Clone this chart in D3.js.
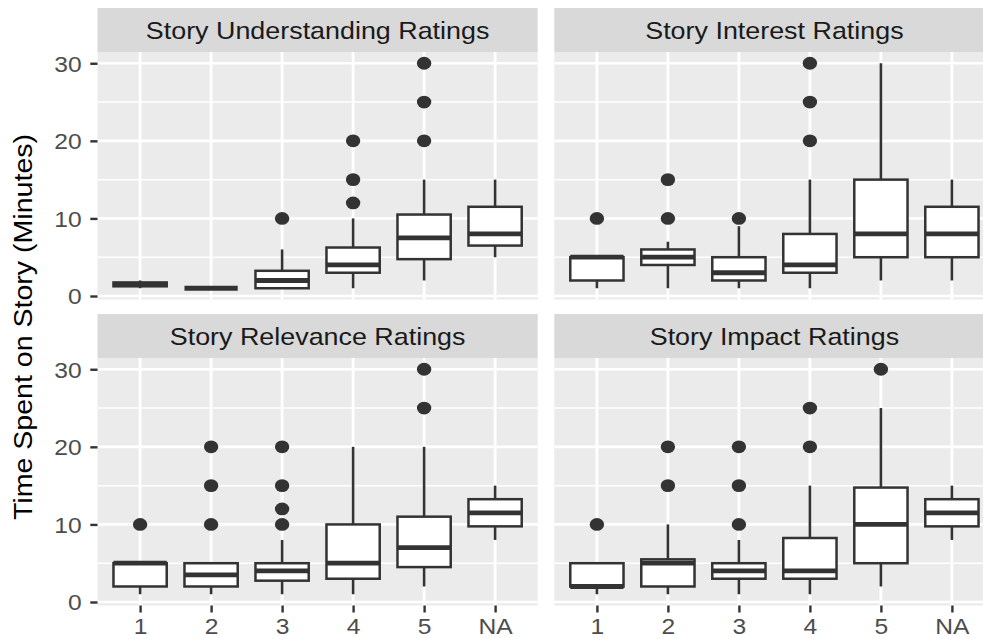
<!DOCTYPE html>
<html>
<head>
<meta charset="utf-8">
<script src="https://cdn.jsdelivr.net/npm/d3@7"></script>
<style>
  html, body { margin: 0; padding: 0; background: #ffffff; }
  svg { display: block; }
  text { font-family: "Liberation Sans", Arial, Helvetica, sans-serif; }
</style>
</head>
<body>
<svg id="chart" width="983" height="639"></svg>
<script>
// Rating categories shown on the x axis of every facet
const categories = ["1", "2", "3", "4", "5", "NA"];

const facetTitles = [
  "Story Understanding Ratings",
  "Story Interest Ratings",
  "Story Relevance Ratings",
  "Story Impact Ratings"
];

// Box summaries per category: [lower whisker, Q1, median, Q3, upper whisker]
const understandingBoxes = [
  [1, 1.25, 1.5, 1.75, 2],
  [1, 1, 1, 1, 1],
  [1, 1, 2, 3.25, 6],
  [1, 3, 4, 6.25, 10],
  [2, 4.75, 7.5, 10.5, 15],
  [5, 6.5, 8, 11.5, 15]
];
const understandingOutliers = [[], [], [10], [12, 15, 20], [20, 25, 30], []];

const interestBoxes = [
  [1, 2, 5, 5, 5],
  [1, 4, 5, 6, 7],
  [1, 2, 3, 5, 9],
  [1, 3, 4, 8, 15],
  [2, 5, 8, 15, 30],
  [2, 5, 8, 11.5, 15]
];
const interestOutliers = [[10], [10, 15], [10], [20, 25, 30], [], []];

const relevanceBoxes = [
  [1, 2, 5, 5, 5],
  [1, 2, 3.5, 5, 5],
  [1, 2.75, 4, 5, 8],
  [1, 3, 5, 10, 20],
  [2, 4.5, 7, 11, 20],
  [8, 9.75, 11.5, 13.25, 15]
];
const relevanceOutliers = [[10], [10, 15, 20], [10, 12, 15, 20], [], [25, 30], []];

const impactBoxes = [
  [1, 2, 2, 5, 5],
  [1, 2, 5, 5.5, 10],
  [1, 3, 4, 5, 8],
  [1, 3, 4, 8.25, 15],
  [2, 5, 10, 14.75, 25],
  [8, 9.75, 11.5, 13.25, 15]
];
const impactOutliers = [[10], [15, 20], [10, 15, 20], [20, 25], [30], []];

const yTicks = [0, 10, 20, 30];
const yMinorTicks = [5, 15, 25];
const yTitle = "Time Spent on Story (Minutes)";

// ---- layout -------------------------------------------------------------
const facets = [
  { title: facetTitles[0], boxes: understandingBoxes, outliers: understandingOutliers, col: 0, row: 0 },
  { title: facetTitles[1], boxes: interestBoxes,      outliers: interestOutliers,      col: 1, row: 0 },
  { title: facetTitles[2], boxes: relevanceBoxes,     outliers: relevanceOutliers,     col: 0, row: 1 },
  { title: facetTitles[3], boxes: impactBoxes,        outliers: impactOutliers,        col: 1, row: 1 }
];

const colX = [[97.5, 537.7], [554.3, 994.5]];
const rowY = [[52, 299.5], [358, 605.5]];
const stripH = 44;

const textStretch = 1.12;           // glyphs are drawn slightly wide
const ink = "#333333";
const panelBg = "#EBEBEB";
const stripBg = "#D9D9D9";

// shared y domain with 5% expansion, as in the faceted plot
const allValues = [];
facets.forEach(f => {
  f.boxes.forEach(b => allValues.push(...b));
  f.outliers.forEach(o => allValues.push(...o));
});
const [vMin, vMax] = d3.extent(allValues);
const pad = (vMax - vMin) * 0.05;
const yDomain = [vMin - pad, vMax + pad];

const svg = d3.select("#chart");

facets.forEach(f => {
  const [x0, x1] = colX[f.col];
  const [y0, y1] = rowY[f.row];

  const x = d3.scalePoint().domain(categories).range([x0, x1]).padding(0.6);
  const y = d3.scaleLinear().domain(yDomain).range([y1, y0]);
  const boxW = x.step() * 0.75;

  const g = svg.append("g");

  // panel background
  g.append("rect")
    .attr("x", x0).attr("y", y0)
    .attr("width", x1 - x0).attr("height", y1 - y0)
    .attr("fill", panelBg);

  // strip
  g.append("rect")
    .attr("x", x0).attr("y", y0 - stripH)
    .attr("width", x1 - x0).attr("height", stripH)
    .attr("fill", stripBg);
  g.append("text")
    .attr("transform", `translate(${(x0 + x1) / 2},${y0 - stripH / 2 + 8.6}) scale(${textStretch},1)`)
    .attr("text-anchor", "middle")
    .attr("font-size", 24)
    .attr("fill", "#1A1A1A")
    .text(f.title);

  // grid lines
  g.selectAll(".minor").data(yMinorTicks).join("line")
    .attr("x1", x0).attr("x2", x1)
    .attr("y1", d => y(d)).attr("y2", d => y(d))
    .attr("stroke", "#ffffff").attr("stroke-width", 1.5);
  g.selectAll(".major").data(yTicks).join("line")
    .attr("x1", x0).attr("x2", x1)
    .attr("y1", d => y(d)).attr("y2", d => y(d))
    .attr("stroke", "#ffffff").attr("stroke-width", 2.6);
  g.selectAll(".vgrid").data(categories).join("line")
    .attr("x1", d => x(d)).attr("x2", d => x(d))
    .attr("y1", y0).attr("y2", y1)
    .attr("stroke", "#ffffff").attr("stroke-width", 2.8);

  // boxplots
  categories.forEach((c, i) => {
    const [lo, q1, med, q3, hi] = f.boxes[i];
    const cx = x(c);

    // outliers
    g.selectAll(null).data(f.outliers[i]).join("ellipse")
      .attr("cx", cx).attr("cy", d => y(d))
      .attr("rx", 7.2).attr("ry", 6.4)
      .attr("fill", ink);

    // whiskers
    g.append("line")
      .attr("x1", cx).attr("x2", cx)
      .attr("y1", y(q3)).attr("y2", y(hi))
      .attr("stroke", ink).attr("stroke-width", 2.6);
    g.append("line")
      .attr("x1", cx).attr("x2", cx)
      .attr("y1", y(q1)).attr("y2", y(lo))
      .attr("stroke", ink).attr("stroke-width", 2.6);

    // box
    g.append("rect")
      .attr("x", cx - boxW / 2).attr("y", y(q3))
      .attr("width", boxW).attr("height", Math.max(0, y(q1) - y(q3)))
      .attr("fill", "#ffffff")
      .attr("stroke", ink).attr("stroke-width", 2.5);

    // median
    g.append("line")
      .attr("x1", cx - boxW / 2).attr("x2", cx + boxW / 2)
      .attr("y1", y(med)).attr("y2", y(med))
      .attr("stroke", ink).attr("stroke-width", 4.8);
  });

  // y axis on the left column
  if (f.col === 0) {
    const ax = g.append("g")
      .attr("transform", `translate(${x0},0)`)
      .call(d3.axisLeft(y).tickValues(yTicks).tickSize(7.2).tickPadding(8));
    ax.select(".domain").remove();
    ax.selectAll(".tick line").attr("stroke", ink).attr("stroke-width", 2.4);
    ax.selectAll(".tick text")
      .attr("x", null).attr("dy", null)
      .attr("transform", `translate(-15.8,7.9) scale(${textStretch},1)`)
      .attr("font-size", 22)
      .attr("font-family", "'Liberation Sans', Arial, Helvetica, sans-serif")
      .attr("fill", "#4D4D4D");
  }

  // x axis on the bottom row
  if (f.row === 1) {
    const ax = g.append("g")
      .attr("transform", `translate(0,${y1})`)
      .call(d3.axisBottom(x).tickSize(7).tickPadding(8));
    ax.select(".domain").remove();
    ax.selectAll(".tick line").attr("stroke", ink).attr("stroke-width", 2.4);
    ax.selectAll(".tick text")
      .attr("y", null).attr("dy", null)
      .attr("transform", `translate(0,28.5) scale(${textStretch},1)`)
      .attr("font-size", 22)
      .attr("font-family", "'Liberation Sans', Arial, Helvetica, sans-serif")
      .attr("fill", "#4D4D4D");
  }
});

// y axis title
svg.append("text")
  .attr("transform", `translate(31.7,327) rotate(-90) scale(${textStretch},1)`)
  .attr("text-anchor", "middle")
  .attr("font-size", 25.5)
  .attr("fill", "#000000")
  .text(yTitle);
</script>
</body>
</html>
